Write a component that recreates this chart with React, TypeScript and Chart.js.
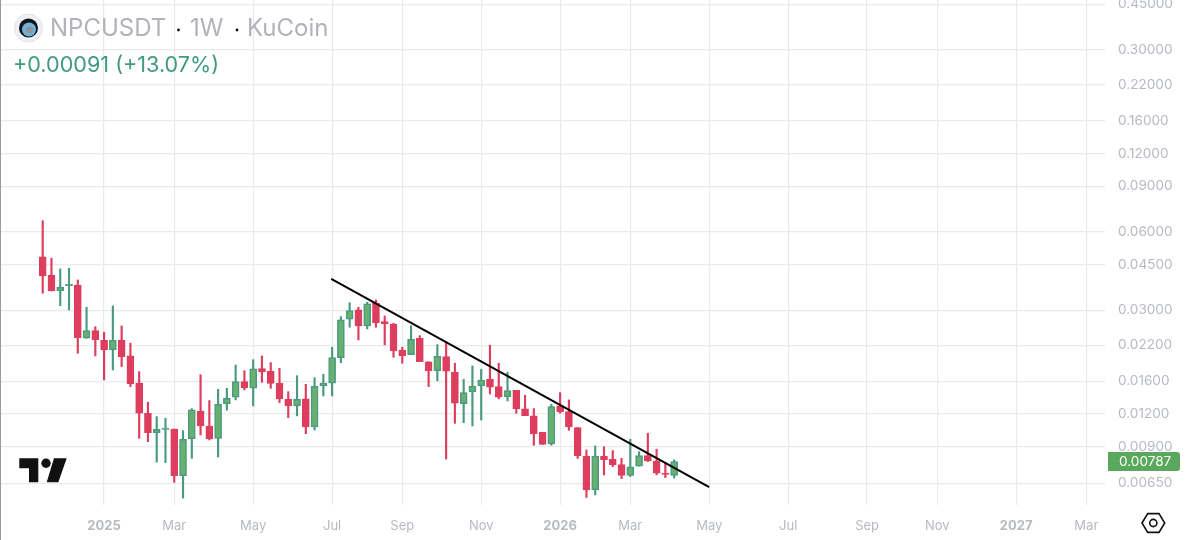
import { useEffect, useRef } from 'react'
import { Chart, registerables, type Plugin } from 'chart.js'

Chart.register(...registerables)

const opens = [
  0.0482, 0.0410, 0.0356, 0.03721, 0.03754, 0.02343, 0.02506, 0.02302, 0.02118, 0.02302,
  0.02004, 0.01573, 0.01207, 0.01016, 0.01047, 0.0105, 0.00695, 0.00964, 0.01229, 0.01078,
  0.00967, 0.01314, 0.0139, 0.01596, 0.01505, 0.01791, 0.0175, 0.01573, 0.01366, 0.01288,
  0.0137, 0.01069, 0.01536, 0.01576, 0.01974, 0.02772, 0.0301, 0.02613, 0.03193, 0.02714,
  0.02659, 0.02107, 0.02027, 0.02343, 0.019, 0.01759, 0.01991, 0.01739, 0.01314, 0.01457,
  0.01536, 0.0163, 0.01527, 0.01398, 0.01479, 0.01254, 0.01179, 0.0102, 0.0092, 0.01288,
  0.01224, 0.01062, 0.00827, 0.00613, 0.00827, 0.00803, 0.00766, 0.00697, 0.00756, 0.00829,
  0.0079, 0.0071, 0.00696,
]
const highs = [
  0.0663, 0.04755, 0.04326, 0.04352, 0.03924, 0.03082, 0.02596, 0.02471, 0.03118, 0.02613,
  0.02242, 0.01744, 0.01331, 0.01171, 0.01155, 0.0105, 0.01035, 0.01257, 0.01698, 0.0135,
  0.01492, 0.01505, 0.0185, 0.01759, 0.01939, 0.02004, 0.01888, 0.01797, 0.01461, 0.01683,
  0.01559, 0.01653, 0.01704, 0.02164, 0.02837, 0.0321, 0.03082, 0.03222, 0.03288, 0.02854,
  0.02676, 0.02164, 0.0262, 0.02398, 0.01905, 0.02214, 0.02273, 0.01878, 0.0163, 0.01834,
  0.01781, 0.02202, 0.01878, 0.01734, 0.01479, 0.01415, 0.01258, 0.0102, 0.01307, 0.01448,
  0.01358, 0.01062, 0.00872, 0.00904, 0.00898, 0.00867, 0.0081, 0.00959, 0.00859, 0.01011,
  0.00878, 0.00776, 0.00799,
]
const lows = [
  0.0349, 0.0356, 0.03126, 0.0301, 0.02052, 0.02343, 0.02004, 0.0162, 0.0177, 0.01823,
  0.01527, 0.00967, 0.00939, 0.00783, 0.0078, 0.00655, 0.0057, 0.0081, 0.00996, 0.00953,
  0.0082, 0.0124, 0.01358, 0.01483, 0.01288, 0.01587, 0.01505, 0.01326, 0.01161, 0.01179,
  0.01007, 0.01041, 0.01406, 0.01406, 0.01888, 0.02583, 0.02308, 0.02544, 0.02583, 0.02208,
  0.01981, 0.01878, 0.02027, 0.01905, 0.01527, 0.01606, 0.00805, 0.01104, 0.0111, 0.01078,
  0.01137, 0.01431, 0.0137, 0.01346, 0.01207, 0.01182, 0.00909, 0.00917, 0.00909, 0.01207,
  0.01038, 0.00809, 0.00573, 0.00586, 0.00699, 0.00753, 0.00677, 0.0069, 0.00756, 0.00787,
  0.007, 0.00683, 0.0068,
]
const closes = [
  0.0408, 0.0356, 0.03678, 0.03777, 0.02356, 0.02506, 0.02308, 0.02113, 0.02302, 0.01991,
  0.01564, 0.01207, 0.01016, 0.01047, 0.01059, 0.00695, 0.00959, 0.01243, 0.01078, 0.00961,
  0.01307, 0.01378, 0.01596, 0.01509, 0.01786, 0.01739, 0.01573, 0.0137, 0.01288, 0.01366,
  0.01069, 0.01532, 0.01576, 0.01974, 0.02755, 0.02991, 0.02613, 0.03174, 0.0269, 0.02665,
  0.021, 0.02009, 0.02323, 0.01905, 0.01759, 0.01998, 0.0175, 0.01319, 0.01448, 0.01536,
  0.0162, 0.01519, 0.0139, 0.01474, 0.01254, 0.01182, 0.01007, 0.00917, 0.0128, 0.01224,
  0.01069, 0.00827, 0.00613, 0.00827, 0.008, 0.00766, 0.00697, 0.00751, 0.00829, 0.00792,
  0.0071, 0.00703, 0.00787,
]

const trendWeeks = [32.9, 76]
const trendPrices = [0.0396, 0.00628]

const priceTicks = [0.45, 0.3, 0.22, 0.16, 0.12, 0.09, 0.06, 0.045, 0.03, 0.022, 0.016, 0.012, 0.009, 0.0065]
const tickWeeks = [7, 15, 24, 33, 41, 50, 59, 67, 76, 85, 94, 102, 111, 119]
const tickLabels = ['2025', 'Mar', 'May', 'Jul', 'Sep', 'Nov', '2026', 'Mar', 'May', 'Jul', 'Sep', 'Nov', '2027', 'Mar']

const UP = '#68b06f'
const UP_EDGE = '#4a9a82'
const DOWN = '#dd3e5e'
const LABEL = '#b6bac2'
const GRID = '#e9eaec'
const FONT = 'Inter, Roboto, sans-serif'

const lastPriceBadge: Plugin = {
  id: 'lastPriceBadge',
  afterDraw(chart) {
    const { ctx } = chart
    const last = closes[closes.length - 1]
    const y = chart.scales.y.getPixelForValue(last)
    ctx.save()
    ctx.fillStyle = '#5aa85c'
    ctx.beginPath()
    ctx.roundRect(1108, y - 9.5, 72, 19, [0, 3, 3, 0])
    ctx.fill()
    ctx.fillStyle = '#fff'
    ctx.font = `13.6px ${FONT}`
    ctx.textAlign = 'left'
    ctx.textBaseline = 'middle'
    ctx.fillText(last.toFixed(5), 1119, y + 0.5)
    ctx.restore()
  },
}

export default function App() {
  const ref = useRef<HTMLCanvasElement>(null)

  useEffect(() => {
    if (!ref.current) return
    const isUp = closes.map((c, i) => c >= opens[i])

    const chart = new Chart(ref.current, {
      type: 'bar',
      plugins: [lastPriceBadge],
      data: {
        datasets: [
          {
            type: 'line',
            data: trendWeeks.map((x, i) => ({ x, y: trendPrices[i] })),
            borderColor: '#000',
            borderWidth: 2,
            pointRadius: 0,
            order: 1,
          },
          {
            data: opens.map((o, i) => ({ x: i, y: [o, closes[i]] })),
            backgroundColor: isUp.map(u => (u ? UP : DOWN)),
            borderColor: isUp.map(u => (u ? UP_EDGE : DOWN)),
            borderWidth: 1.5,
            borderSkipped: false,
            barThickness: 7,
            grouped: false,
            order: 2,
          },
          {
            data: highs.map((h, i) => ({ x: i, y: [lows[i], h] })),
            backgroundColor: isUp.map(u => (u ? UP_EDGE : DOWN)),
            barThickness: 1.5,
            grouped: false,
            order: 3,
          },
        ],
      } as any,
      options: {
        responsive: false,
        animation: false,
        layout: { padding: 0 },
        plugins: { legend: { display: false }, tooltip: { enabled: false } },
        scales: {
          x: {
            type: 'linear',
            offset: false,
            min: -4.87,
            max: 121.13,
            grid: { color: GRID, lineWidth: 1.2, drawTicks: false, offset: false },
            border: { display: false },
            afterBuildTicks: scale => {
              scale.ticks = tickWeeks.map(value => ({ value }))
            },
            afterFit: scale => {
              scale.height = 35
              scale.paddingLeft = 0
              scale.paddingRight = 0
            },
            ticks: {
              autoSkip: false,
              maxRotation: 0,
              padding: 13,
              color: LABEL,
              font: ctx => ({
                family: FONT,
                size: 13,
                weight: /^\d/.test(tickLabels[tickWeeks.indexOf(ctx.tick?.value)] ?? '') ? 'bold' : 'normal',
              }),
              callback: (_v, i) => tickLabels[i],
            },
          },
          y: {
            type: 'logarithmic',
            position: 'right',
            min: 0.00536,
            max: 0.467,
            grid: { color: GRID, lineWidth: 1.2, drawTicks: false },
            border: { display: false },
            afterBuildTicks: scale => {
              scale.ticks = priceTicks.map(value => ({ value }))
            },
            afterFit: scale => {
              scale.width = 94
              scale.paddingTop = 0
              scale.paddingBottom = 0
            },
            ticks: {
              autoSkip: false,
              padding: 13,
              color: LABEL,
              font: { family: FONT, size: 13.6 },
              callback: v => Number(v).toFixed(5),
            },
          },
        },
      },
    })
    return () => chart.destroy()
  }, [])

  const head = { position: 'absolute', top: 13, color: '#b0b3ba', fontSize: 24, lineHeight: '30px', whiteSpace: 'nowrap' } as const

  return (
    <div style={{ position: 'absolute', left: 0, top: 0, width: 1199, height: 540, overflow: 'hidden', background: '#fff', fontFamily: FONT }}>
      <canvas ref={ref} width={1199} height={540} style={{ position: 'absolute', left: 0, top: 0 }} />
      <div style={{ position: 'absolute', left: 0, top: 0, width: 1, height: 540, background: '#9c9c9c' }} />

      <svg width={1199} height={540} style={{ position: 'absolute', left: 0, top: 0 }}>
        <circle cx={28.5} cy={28} r={14} fill="#eef0f4" stroke="#dfe2ea" />
        <circle cx={28.5} cy={28} r={9.5} fill="#10151c" />
        <circle cx={29} cy={29.5} r={7} fill="#6fb2d6" />
        <circle cx={29.5} cy={30} r={3.5} fill="#8d959d" />
        <path d="M19.3 458.3H38.3V482.3H29V468.3H19.3Z" fill="#111" />
        <circle cx={46} cy={463.3} r={4.7} fill="#111" />
        <path d="M54 458.3H66.7L58.3 482.3H46.7Z" fill="#111" />
        <path d="M1142 523L1147.7 513.6H1159L1164.7 523L1159 532.4H1147.7Z" fill="none" stroke="#111" strokeWidth={1.6} />
        <circle cx={1153.3} cy={523} r={3.6} fill="none" stroke="#111" strokeWidth={1.6} />
        <circle cx={178.5} cy={30} r={1.4} fill="#111" />
        <circle cx={237} cy={30} r={1.4} fill="#111" />
      </svg>

      <span style={{ ...head, left: 50 }}>NPCUSDT</span>
      <span style={{ ...head, left: 190 }}>1W</span>
      <span style={{ ...head, left: 247 }}>KuCoin</span>
      <span style={{ position: 'absolute', left: 13, top: 51, color: '#3f9a80', fontSize: 21.6, lineHeight: '26px', whiteSpace: 'nowrap' }}>
        +0.00091 (+13.07%)
      </span>
    </div>
  )
}
